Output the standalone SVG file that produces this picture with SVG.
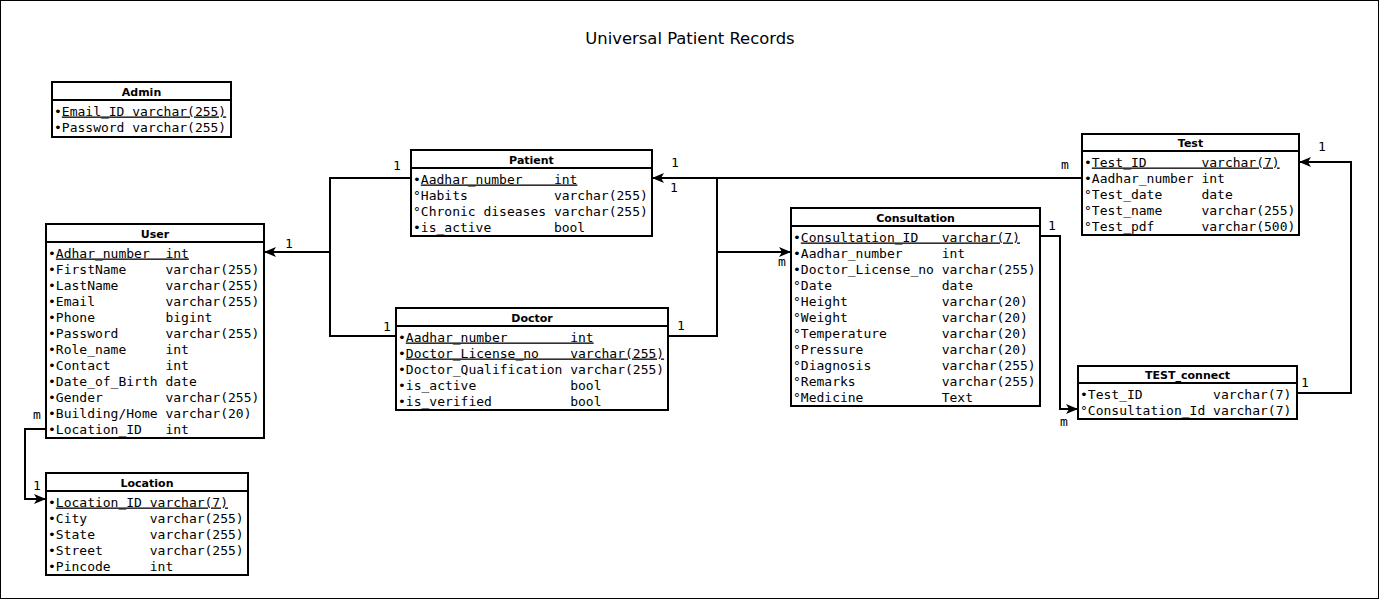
<svg xmlns="http://www.w3.org/2000/svg" width="1379" height="599" viewBox="0 0 1379 599">
<style>
.box{fill:#fff;stroke:#000;stroke-width:2}
.div{stroke:#000;stroke-width:2}
.h{font-family:"DejaVu Sans",sans-serif;font-weight:bold;font-size:11px;text-anchor:middle;fill:#000}
.f{font-family:"DejaVu Sans Mono",monospace;font-size:13px;white-space:pre;fill:#000}
.u{text-decoration:underline}
.lbl{font-family:"DejaVu Sans Mono",monospace;font-size:13px;text-anchor:middle;fill:#000}
.ttl{font-family:"DejaVu Sans",sans-serif;font-size:16.4px;text-anchor:middle;fill:#000}
.c{fill:none;stroke:#000;stroke-width:2}
</style>
<defs>
<marker id="arr" markerUnits="userSpaceOnUse" viewBox="0 0 12 10" refX="12" refY="5" markerWidth="12" markerHeight="10" orient="auto">
<path d="M0,0 L12,5 L0,10 L3,5 Z" fill="#000"/>
</marker>
</defs>
<rect x="0.5" y="0.5" width="1378" height="598" fill="#fff" stroke="#000" stroke-width="1"/>
<text class="ttl" x="690" y="44">Universal Patient Records</text>

<g id="connectors">
<path class="c" d="M411,178 H330 V336 H396"/>
<path class="c" d="M330,252 H264" marker-end="url(#arr)"/>
<path class="c" d="M1082,178 H652" marker-end="url(#arr)"/>
<path class="c" d="M717,178 V336 H668"/>
<path class="c" d="M717,252 H791" marker-end="url(#arr)"/>
<path class="c" d="M1040,236 H1060 V409 H1078" marker-end="url(#arr)"/>
<path class="c" d="M1297,393 H1351 V162 H1299" marker-end="url(#arr)"/>
<path class="c" d="M46,429 H25 V499 H46" marker-end="url(#arr)"/>
<text class="lbl" x="397" y="170">1</text>
<text class="lbl" x="289" y="248">1</text>
<text class="lbl" x="387" y="331">1</text>
<text class="lbl" x="675" y="167">1</text>
<text class="lbl" x="674" y="192">1</text>
<text class="lbl" x="681" y="330">1</text>
<text class="lbl" x="782" y="266">m</text>
<text class="lbl" x="1065" y="169">m</text>
<text class="lbl" x="1052" y="230">1</text>
<text class="lbl" x="1064" y="426">m</text>
<text class="lbl" x="1305" y="387">1</text>
<text class="lbl" x="1322" y="151">1</text>
<text class="lbl" x="37" y="419">m</text>
<text class="lbl" x="37" y="490">1</text>
</g>

<g id="admin">
<rect class="box" x="52" y="82" width="179" height="55"/>
<line class="div" x1="52" y1="100" x2="231" y2="100"/>
<text class="h" x="141.5" y="96">Admin</text>
<text class="f" x="54" y="115.5">•<tspan class="u">Email_ID varchar(255)</tspan></text>
<text class="f" x="54" y="131.5">•Password varchar(255)</text>
</g>

<g id="user">
<rect class="box" x="46" y="224" width="218" height="214"/>
<line class="div" x1="46" y1="242" x2="264" y2="242"/>
<text class="h" x="155" y="238">User</text>
<text class="f" x="48" y="257.5">•<tspan class="u">Adhar_number  int</tspan></text>
<text class="f" x="48" y="273.5">•FirstName     varchar(255)</text>
<text class="f" x="48" y="289.5">•LastName      varchar(255)</text>
<text class="f" x="48" y="305.5">•Email         varchar(255)</text>
<text class="f" x="48" y="321.5">•Phone         bigint</text>
<text class="f" x="48" y="337.5">•Password      varchar(255)</text>
<text class="f" x="48" y="353.5">•Role_name     int</text>
<text class="f" x="48" y="369.5">•Contact       int</text>
<text class="f" x="48" y="385.5">•Date_of_Birth date</text>
<text class="f" x="48" y="401.5">•Gender        varchar(255)</text>
<text class="f" x="48" y="417.5">•Building/Home varchar(20)</text>
<text class="f" x="48" y="433.5">•Location_ID   int</text>
</g>

<g id="location">
<rect class="box" x="46" y="473" width="202" height="102"/>
<line class="div" x1="46" y1="491" x2="248" y2="491"/>
<text class="h" x="147" y="487">Location</text>
<text class="f" x="48" y="506.5">•<tspan class="u">Location_ID varchar(7)</tspan></text>
<text class="f" x="48" y="522.5">•City        varchar(255)</text>
<text class="f" x="48" y="538.5">•State       varchar(255)</text>
<text class="f" x="48" y="554.5">•Street      varchar(255)</text>
<text class="f" x="48" y="570.5">•Pincode     int</text>
</g>

<g id="patient">
<rect class="box" x="411" y="150" width="241" height="86"/>
<line class="div" x1="411" y1="168" x2="652" y2="168"/>
<text class="h" x="531.5" y="164">Patient</text>
<text class="f" x="413" y="183.5">•<tspan class="u">Aadhar_number    int</tspan></text>
<text class="f" x="413" y="199.5">°Habits           varchar(255)</text>
<text class="f" x="413" y="215.5">°Chronic diseases varchar(255)</text>
<text class="f" x="413" y="231.5">•is_active        bool</text>
</g>

<g id="doctor">
<rect class="box" x="396" y="308" width="272" height="102"/>
<line class="div" x1="396" y1="326" x2="668" y2="326"/>
<text class="h" x="532" y="322">Doctor</text>
<text class="f" x="398" y="341.5">•<tspan class="u">Aadhar_number        int</tspan></text>
<text class="f" x="398" y="357.5">•<tspan class="u">Doctor_License_no    varchar(255)</tspan></text>
<text class="f" x="398" y="373.5">•Doctor_Qualification varchar(255)</text>
<text class="f" x="398" y="389.5">•is_active            bool</text>
<text class="f" x="398" y="405.5">•is_verified          bool</text>
</g>

<g id="consultation">
<rect class="box" x="791" y="208" width="249" height="198"/>
<line class="div" x1="791" y1="226" x2="1040" y2="226"/>
<text class="h" x="915.5" y="222">Consultation</text>
<text class="f" x="793" y="241.5">•<tspan class="u">Consultation_ID   varchar(7)</tspan></text>
<text class="f" x="793" y="257.5">•Aadhar_number     int</text>
<text class="f" x="793" y="273.5">•Doctor_License_no varchar(255)</text>
<text class="f" x="793" y="289.5">°Date              date</text>
<text class="f" x="793" y="305.5">°Height            varchar(20)</text>
<text class="f" x="793" y="321.5">°Weight            varchar(20)</text>
<text class="f" x="793" y="337.5">°Temperature       varchar(20)</text>
<text class="f" x="793" y="353.5">°Pressure          varchar(20)</text>
<text class="f" x="793" y="369.5">°Diagnosis         varchar(255)</text>
<text class="f" x="793" y="385.5">°Remarks           varchar(255)</text>
<text class="f" x="793" y="401.5">°Medicine          Text</text>
</g>

<g id="test">
<rect class="box" x="1082" y="134" width="217" height="101"/>
<line class="div" x1="1082" y1="151" x2="1299" y2="151"/>
<text class="h" x="1190.5" y="147">Test</text>
<text class="f" x="1084" y="166.5">•<tspan class="u">Test_ID       varchar(7)</tspan></text>
<text class="f" x="1084" y="182.5">•Aadhar_number int</text>
<text class="f" x="1084" y="198.5">°Test_date     date</text>
<text class="f" x="1084" y="214.5">°Test_name     varchar(255)</text>
<text class="f" x="1084" y="230.5">°Test_pdf      varchar(500)</text>
</g>

<g id="test_connect">
<rect class="box" x="1078" y="366" width="219" height="53"/>
<line class="div" x1="1078" y1="383" x2="1297" y2="383"/>
<text class="h" x="1187.5" y="379">TEST_connect</text>
<text class="f" x="1080" y="398.5">•Test_ID         varchar(7)</text>
<text class="f" x="1080" y="414.5">°Consultation_Id varchar(7)</text>
</g>
</svg>
